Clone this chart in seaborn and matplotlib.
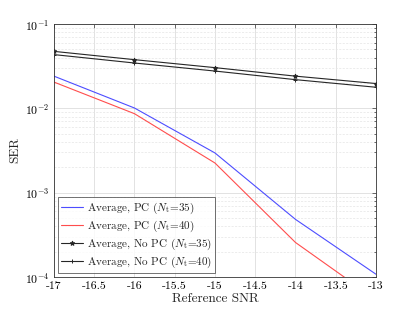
import numpy as np
import pandas as pd
import matplotlib
matplotlib.use("Agg")
import matplotlib.pyplot as plt
import seaborn as sns

# ---- data ----
snr = [-17, -16, -15, -14, -13]
pc_35 = [0.0241, 0.0101, 0.00296, 0.000483, 0.000108]
pc_40 = [0.0205, 0.00865, 0.00225, 0.000257, 0.000054]
nopc_35 = [0.0474, 0.0378, 0.0304, 0.0241, 0.0197]
nopc_40 = [0.0434, 0.0345, 0.0277, 0.0219, 0.0178]

series = [
    (r"Average, PC ($N_{\mathrm{t}}$=35)", pc_35, "#4d4dff", None),
    (r"Average, PC ($N_{\mathrm{t}}$=40)", pc_40, "#ff4d4d", None),
    (r"Average, No PC ($N_{\mathrm{t}}$=35)", nopc_35, "#262626", "*"),
    (r"Average, No PC ($N_{\mathrm{t}}$=40)", nopc_40, "#262626", "+"),
]

xticks = [-17, -16.5, -16, -15.5, -15, -14.5, -14, -13.5, -13]
xticklabels = ["-17", "-16.5", "-16", "-15.5", "-15", "-14.5", "-14", "-13.5", "-13"]

sns.set_style("white")
plt.rcParams["font.family"] = ["serif"]
plt.rcParams["font.serif"] = ["cmr10", "DejaVu Serif"]
plt.rcParams["mathtext.fontset"] = "cm"
plt.rcParams["axes.formatter.use_mathtext"] = True

fig = plt.figure(figsize=(4.15, 3.12), dpi=100)
ax = fig.add_axes([0.130, 0.112, 0.776, 0.811])

for label, vals, color, marker in series:
    df = pd.DataFrame({"snr": snr, "ser": vals})
    sns.lineplot(data=df, x="snr", y="ser", ax=ax, color=color, lw=0.8,
                 marker=marker, markersize=3.5, markeredgewidth=0.7,
                 markeredgecolor=color, label=label)

ax.set_yscale("log")
ax.set_xlim(-17, -13)
ax.set_ylim(1e-4, 1e-1)
ax.set_xticks(xticks)
ax.set_xticklabels(xticklabels, fontsize=8.5)
ax.set_yticks([1e-4, 1e-3, 1e-2, 1e-1])
ax.set_yticklabels([r"$10^{-4}$", r"$10^{-3}$", r"$10^{-2}$", r"$10^{-1}$"], fontsize=8.5)
ax.set_xlabel("Reference SNR", fontsize=9.5, labelpad=1)
ax.set_ylabel("SER", fontsize=9.5, labelpad=2)

ax.grid(True, which="major", color="#dddddd", lw=0.6, ls="-")
ax.grid(True, which="minor", axis="y", color="#e4e4e4", lw=0.5, ls=(0, (3, 2)))
ax.tick_params(which="both", direction="in", top=True, right=True,
               colors="#333333", labelcolor="black", width=0.5)
ax.tick_params(which="major", length=3)
ax.tick_params(which="minor", length=1.5)
for s in ax.spines.values():
    s.set_color("#333333")
    s.set_linewidth(0.6)

leg = ax.legend(loc="lower left", fontsize=8, frameon=True, fancybox=False,
                borderpad=0.3, labelspacing=0.25, handlelength=2.0,
                handletextpad=0.3, borderaxespad=0.35)
leg.get_frame().set_edgecolor("#333333")
leg.get_frame().set_linewidth(0.6)

fig.savefig("out.png", dpi=100)
